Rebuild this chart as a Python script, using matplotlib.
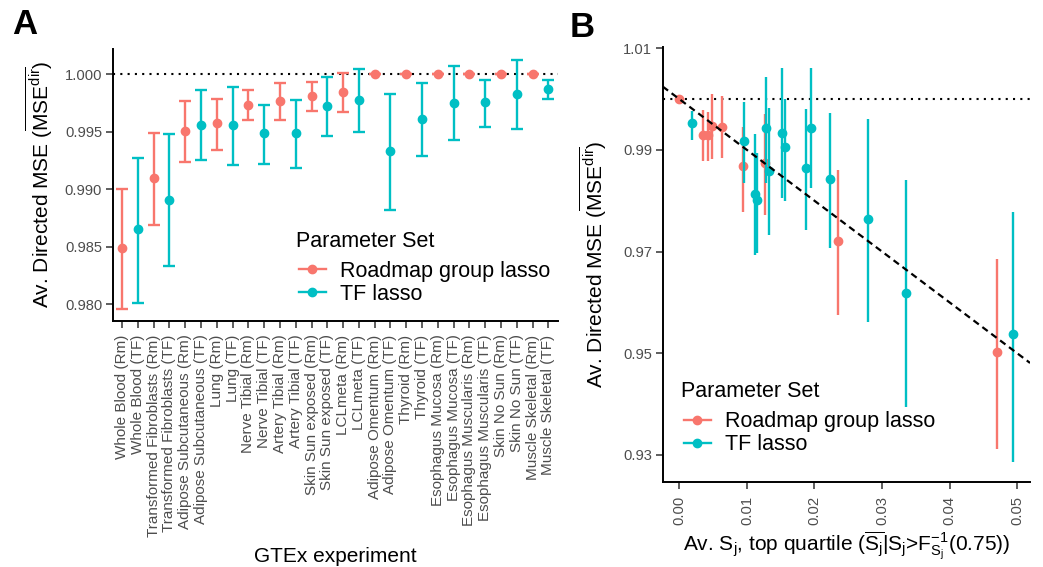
import numpy as np
import matplotlib
matplotlib.use("Agg")
import matplotlib.pyplot as plt
from matplotlib.lines import Line2D

plt.rcParams['font.family'] = ['Liberation Sans', 'DejaVu Sans']
plt.rcParams['mathtext.fontset'] = 'custom'
plt.rcParams['mathtext.rm'] = 'Liberation Sans'
plt.rcParams['mathtext.it'] = 'Liberation Sans:italic'
plt.rcParams['mathtext.bf'] = 'Liberation Sans:bold'

RED = '#F8766D'
CYAN = '#00BFC4'
TICKCOL = '#4D4D4D'

# ---- panel A data (GTEx experiments) ----
tissues = ["Whole Blood", "Transformed Fibroblasts", "Adipose Subcutaneous", "Lung",
           "Nerve Tibial", "Artery Tibial", "Skin Sun exposed", "LCLmeta",
           "Adipose Omentum", "Thyroid", "Esophagus Mucosa", "Esophagus Muscularis",
           "Skin No Sun", "Muscle Skeletal"]
rm_mean = [0.98494, 0.99097, 0.99509, 0.99574, 0.99735, 0.99765, 0.99812, 0.99847,
           1.0, 1.0, 1.0, 1.0, 1.0, 1.0]
rm_hi = [0.99000, 0.99494, 0.99765, 0.99788, 0.99865, 0.99926, 0.99938, 1.00012,
         1.0, 1.0, 1.0, 1.0, 1.0, 1.0]
rm_lo = [0.97962, 0.98694, 0.99238, 0.99344, 0.99603, 0.99606, 0.99685, 0.99671,
         1.0, 1.0, 1.0, 1.0, 1.0, 1.0]
tf_mean = [0.98656, 0.98909, 0.99562, 0.99562, 0.99488, 0.99488, 0.99729, 0.99779,
           0.99335, 0.99612, 0.99750, 0.99759, 0.99829, 0.99874]
tf_hi = [0.99274, 0.99479, 0.99862, 0.99891, 0.99732, 0.99779, 0.99976, 1.00044,
         0.99829, 0.99929, 1.00076, 0.99953, 1.00124, 0.99950]
tf_lo = [0.98009, 0.98335, 0.99256, 0.99209, 0.99224, 0.99185, 0.99462, 0.99503,
         0.98821, 0.99294, 0.99432, 0.99544, 0.99526, 0.99789]

# ---- panel B data ----
b_rm_x = [0.0, 0.00346, 0.00429, 0.00484, 0.00636, 0.00947, 0.01263, 0.02348, 0.04700]
b_rm_y = [1.0, 0.99294, 0.99294, 0.99471, 0.99445, 0.98684, 0.98737, 0.97209, 0.95031]
b_rm_hi = [1.0, 0.99786, 0.99741, 1.00095, 1.00062, 0.99458, 0.99707, 0.98606, 0.96855]
b_rm_lo = [1.0, 0.98783, 0.98789, 0.98822, 0.98848, 0.97786, 0.97720, 0.95753, 0.93111]
b_tf_x = [0.00183, 0.00962, 0.01120, 0.01145, 0.01283, 0.01331, 0.01524, 0.01568,
          0.01874, 0.01948, 0.02229, 0.02796, 0.03358, 0.04941]
b_tf_y = [0.99524, 0.99176, 0.98134, 0.98016, 0.99438, 0.98586, 0.99327, 0.99052,
          0.98651, 0.99438, 0.98429, 0.97648, 0.96192, 0.95379]
b_tf_hi = [0.99766, 0.99950, 0.99308, 0.98934, 1.00429, 0.99832, 1.00619, 1.00003,
           0.99806, 1.00619, 0.99721, 0.99603, 0.98409, 0.97774]
b_tf_lo = [0.99196, 0.98344, 0.96934, 0.96979, 0.98356, 0.97327, 0.98049, 0.98002,
           0.97425, 0.98258, 0.97065, 0.95621, 0.93949, 0.92855]
fit_intercept = 1.0
fit_slope = -1.0

labels_A = []
for t in tissues:
    labels_A.append(t + " (Rm)")
    labels_A.append(t + " (TF)")
x_rm = np.arange(len(tissues)) * 2
x_tf = x_rm + 1


def yerr(mean, lo, hi):
    mean = np.array(mean)
    return [mean - np.array(lo), np.array(hi) - mean]


def style_axes(ax):
    for s in ['top', 'right']:
        ax.spines[s].set_visible(False)
    for s in ['left', 'bottom']:
        ax.spines[s].set_linewidth(1.4)
    ax.tick_params(axis='both', length=5, width=1.1, color='#333333',
                   labelcolor=TICKCOL, labelsize=10.6, pad=2.5)


def add_legend(ax, left_px, mid_px, title_top_px):
    handles = [Line2D([0], [0], color=RED, marker='o', ms=6, lw=1.7),
               Line2D([0], [0], color=CYAN, marker='o', ms=6, lw=1.7)]
    names = ["Roadmap group lasso", "TF lasso"]
    ax.legend(handles, names, loc='center left',
              bbox_to_anchor=(left_px / 1043, 1 - mid_px / 567),
              bbox_transform=fig.transFigure, frameon=False, fontsize=15.5,
              handlelength=1.25, handletextpad=0.65, labelspacing=0.1,
              borderpad=0, borderaxespad=0)
    fig.text((left_px - 3) / 1043, 1 - title_top_px / 567, "Parameter Set",
             fontsize=15.5, ha='left', va='top')


fig = plt.figure(figsize=(10.43, 5.67), dpi=100)

# ---------------- panel A ----------------
axA = fig.add_axes([0.1080, 0.4347, 0.4268, 0.4788])
style_axes(axA)
axA.axhline(1.0, color='black', ls=(0, (1, 2.5)), lw=1.5, zorder=1)
axA.errorbar(x_rm, rm_mean, yerr=yerr(rm_mean, rm_lo, rm_hi), fmt='o', color=RED,
             ms=6, elinewidth=1.7, capsize=4.6, capthick=1.7, zorder=3)
axA.errorbar(x_tf, tf_mean, yerr=yerr(tf_mean, tf_lo, tf_hi), fmt='o', color=CYAN,
             ms=6, elinewidth=1.7, capsize=4.6, capthick=1.7, zorder=3)
axA.set_xlim(-0.6, len(labels_A) - 0.4)
axA.set_ylim(0.97859, 1.00221)
axA.set_yticks([0.980, 0.985, 0.990, 0.995, 1.000])
axA.set_yticklabels(["%.3f" % v for v in [0.980, 0.985, 0.990, 0.995, 1.000]])
axA.set_xticks(np.arange(len(labels_A)))
axA.set_xticklabels(labels_A, rotation=90, ha='center', va='top', fontsize=11)
axA.tick_params(axis='x', pad=5)
axA.set_ylabel(r"Av. Directed MSE ($\overline{\mathrm{MSE^{dir}}}$)", fontsize=15)
axA.yaxis.set_label_coords(-0.129, 0.5)
axA.set_xlabel("GTEx experiment", fontsize=15, va='top')
axA.xaxis.set_label_coords(0.5, -0.835)
add_legend(axA, 299, 282.7, 231)

# ---------------- panel B ----------------
axB = fig.add_axes([0.6354, 0.1504, 0.3522, 0.7672])
style_axes(axB)
axB.axhline(1.0, color='black', ls=(0, (1, 2.5)), lw=1.5, zorder=1)
axB.axline((0, fit_intercept), slope=fit_slope, color='black', ls=(0, (3, 2)),
           lw=1.6, zorder=4)
axB.errorbar(b_rm_x, b_rm_y, yerr=yerr(b_rm_y, b_rm_lo, b_rm_hi), fmt='o', color=RED,
             ms=6, elinewidth=1.7, capsize=0, zorder=2)
axB.errorbar(b_tf_x, b_tf_y, yerr=yerr(b_tf_y, b_tf_lo, b_tf_hi), fmt='o', color=CYAN,
             ms=6, elinewidth=1.7, capsize=0, zorder=3)
axB.set_xlim(-0.00246, 0.0519)
axB.set_ylim(0.92474, 1.0103)
xt = [0.00, 0.01, 0.02, 0.03, 0.04, 0.05]
axB.set_xticks(xt)
axB.set_xticklabels(["%.2f" % v for v in xt], rotation=90, ha='center', va='top')
axB.tick_params(axis='x', pad=5)
yt = [0.93, 0.95, 0.97, 0.99, 1.01]
axB.set_yticks(yt)
axB.set_yticklabels(["%.2f" % v for v in yt])
axB.set_ylabel(r"Av. Directed MSE ($\overline{\mathrm{MSE^{dir}}}$)", fontsize=15)
axB.yaxis.set_label_coords(-0.146, 0.5)
axB.set_xlabel(r"Av. $\mathrm{S_j}$, top quartile ($\overline{\mathrm{S_j}}$|$\mathrm{S_j}$>"
               r"$\mathrm{F}^{-1}_{\mathrm{S_j}}$(0.75))", fontsize=15, va='top')
axB.xaxis.set_label_coords(0.5, -0.11)
add_legend(axB, 684, 433.3, 381)

fig.text(11.8 / 1043, 1 - 8 / 567, "A", fontsize=25, fontweight='bold', va='top', ha='left')
fig.text(569.3 / 1043, 1 - 11 / 567, "B", fontsize=25, fontweight='bold', va='top', ha='left')

fig.savefig("out.png", dpi=100)
